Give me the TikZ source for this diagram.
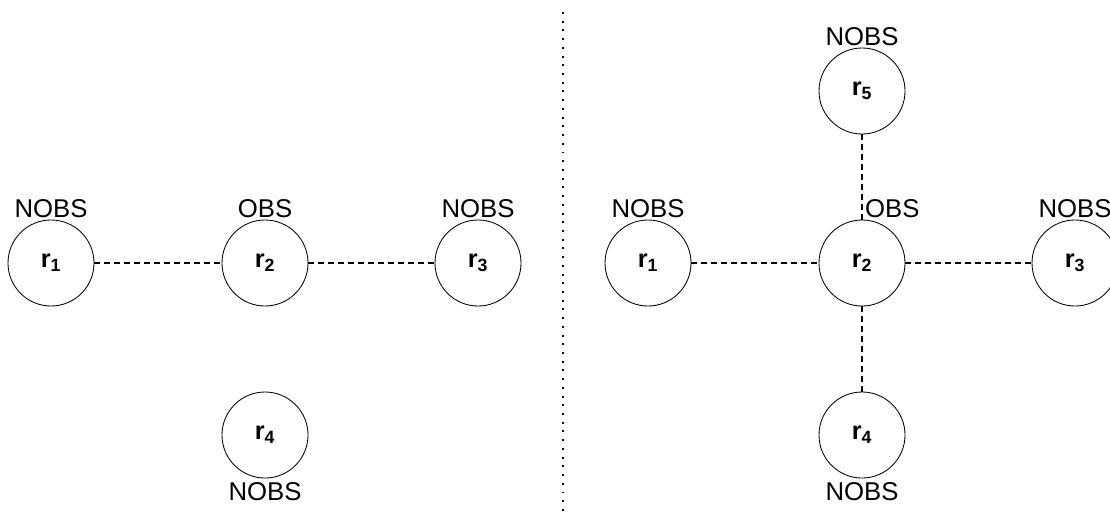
\documentclass[tikz,border=0pt]{standalone}
\usepackage{fontspec}
\setmainfont{Liberation Sans}
\usetikzlibrary{positioning}
\tikzstyle{link} = [line width=1pt, dash pattern=on 4.3pt off 2.8pt]
\tikzstyle{divider} = [line width=1.4pt, dash pattern=on 1.4pt off 4.8pt]

\begin{document}
\begin{tikzpicture}[x=0.025cm, y=-0.025cm, robot/.style={circle, draw, line width=0.6pt, minimum size=2.15cm, inner sep=0pt, font=\fontsize{18}{20}\selectfont\bfseries}, tag/.style={inner sep=0pt, font=\fontsize{18.3}{20}\selectfont}]

			\useasboundingbox (0,0) rectangle (1110,516);

			% LEFT SIDE

			\node [robot] (lr1) at (51,263) {r\textsubscript{1}};
			\node [robot] (lr2) at (265,263) {r\textsubscript{2}};
			\node [robot] (lr3) at (478,263) {r\textsubscript{3}};
			\node [robot] (lr4) at (265,435) {r\textsubscript{4}};

			\node [tag, above=1pt of lr1] (lr1tag) {NOBS};
			\node [tag, above=1pt of lr2] (lr2tag) {OBS};
			\node [tag, above=1pt of lr3] (lr3tag) {NOBS};
			\node [tag, below=3pt of lr4] (lr4tag) {NOBS};

			\draw [link] (lr1) -- (lr2);
			\draw [link] (lr2) -- (lr3);

			% DIVIDER

			\coordinate (divtop) at (563,12);
			\coordinate (divbot) at (563,511);
			\draw [divider] (divtop) -- (divbot);

			% RIGHT SIDE

			\node [robot] (rr1) at (648,263) {r\textsubscript{1}};
			\node [robot] (rr2) at (862,263) {r\textsubscript{2}};
			\node [robot] (rr3) at (1075,263) {r\textsubscript{3}};
			\node [robot] (rr4) at (862,435) {r\textsubscript{4}};
			\node [robot] (rr5) at (862,91) {r\textsubscript{5}};

			\node [tag, above=1pt of rr1] (rr1tag) {NOBS};
			\node [tag, anchor=south west] (rr2tag) at ([xshift=2pt, yshift=1pt]rr2.north) {OBS};
			\node [tag, above=1pt of rr3] (rr3tag) {NOBS};
			\node [tag, below=3pt of rr4] (rr4tag) {NOBS};
			\node [tag, above=1pt of rr5] (rr5tag) {NOBS};

			\draw [link] (rr1) -- (rr2);
			\draw [link] (rr2) -- (rr3);
			\draw [link] (rr2) -- (rr4);
			\draw [link] (rr2) -- (rr5);

\end{tikzpicture}
\end{document}
